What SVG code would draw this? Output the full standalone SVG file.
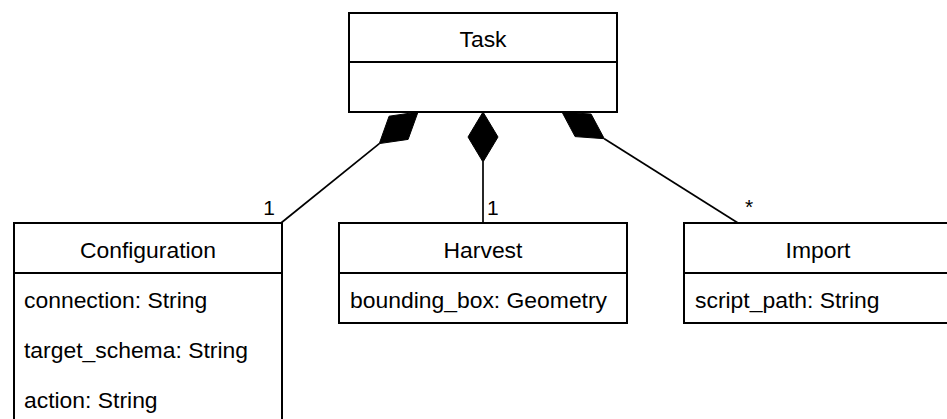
<svg xmlns="http://www.w3.org/2000/svg" width="947" height="419" viewBox="0 0 947 419">
  <style>
    .box { fill: #ffffff; stroke: #000000; stroke-width: 2; }
    .div { stroke: #000000; stroke-width: 2; fill: none; }
    .t { font-family: "Liberation Sans", Arial, Helvetica, sans-serif; font-size: 22.9px; fill: #000000; }
    .c { text-anchor: middle; }
    .lbl { font-family: "Liberation Sans", Arial, Helvetica, sans-serif; font-size: 21px; fill: #000000; }
    .edge { stroke: #000000; stroke-width: 1.7; fill: none; }
    .dia { fill: #000000; stroke: #000000; stroke-width: 1; stroke-linejoin: miter; }
  </style>
  <rect width="947" height="419" fill="#ffffff"/>

  <g id="connectors">
    <g id="edge-configuration">
      <line class="edge" x1="281" y1="223" x2="379.3" y2="143.6"/>
      <polygon class="dia" points="418,112 389.1,116.2 379.3,143.6 408.1,139.4"/>
      <text class="lbl" x="275" y="215" text-anchor="end">1</text>
    </g>
    <g id="edge-harvest">
      <line class="edge" x1="483" y1="223" x2="483" y2="162"/>
      <polygon class="dia" points="483,112 498,137 483,162 468,137"/>
      <text class="lbl" x="487" y="215">1</text>
    </g>
    <g id="edge-import">
      <line class="edge" x1="738" y1="223" x2="604.3" y2="138.7"/>
      <polygon class="dia" points="562,112 591.1,114.1 604.3,138.7 575.1,136.6"/>
      <text class="lbl" x="745" y="214">*</text>
    </g>
  </g>

  <g id="task">
    <rect class="box" x="349" y="13" width="268" height="99"/>
    <line class="div" x1="349" y1="62" x2="617" y2="62"/>
    <text class="t c" x="483" y="47">Task</text>
  </g>

  <g id="configuration">
    <rect class="box" x="14" y="223" width="268" height="210"/>
    <line class="div" x1="14" y1="273" x2="282" y2="273"/>
    <text class="t c" x="148" y="258">Configuration</text>
    <text class="t" x="24" y="308">connection: String</text>
    <text class="t" x="24" y="358">target_schema: String</text>
    <text class="t" x="24" y="408">action: String</text>
  </g>

  <g id="harvest">
    <rect class="box" x="339" y="223" width="288" height="100"/>
    <line class="div" x1="339" y1="273" x2="627" y2="273"/>
    <text class="t c" x="483" y="258">Harvest</text>
    <text class="t" x="350" y="308">bounding_box: Geometry</text>
  </g>

  <g id="import">
    <rect class="box" x="684" y="223" width="268" height="100"/>
    <line class="div" x1="684" y1="273" x2="952" y2="273"/>
    <text class="t c" x="818" y="258">Import</text>
    <text class="t" x="695" y="308">script_path: String</text>
  </g>
</svg>
